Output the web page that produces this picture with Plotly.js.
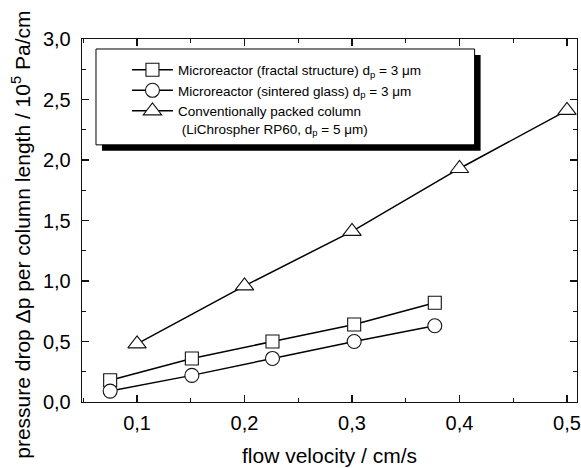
<!DOCTYPE html>
<html>
<head>
<meta charset="utf-8">
<script src="https://cdn.plot.ly/plotly-3.0.1.min.js"></script>
<style>html,body{margin:0;padding:0;background:#fff;}#chart{width:581px;height:468px;}</style>
</head>
<body>
<div id="chart"></div>
<script>
// ---- data ----
const velocityMicro = [0.075, 0.151, 0.226, 0.302, 0.377];
const dpFractal     = [0.18, 0.36, 0.50, 0.64, 0.82];
const dpSintered    = [0.09, 0.22, 0.36, 0.50, 0.63];
const velocityPacked = [0.1, 0.2, 0.3, 0.4, 0.5];
const dpPacked       = [0.48, 0.96, 1.41, 1.93, 2.41];
const seriesNames = [
  'Microreactor (fractal structure) d<sub>p</sub> = 3 \u03bcm',
  'Microreactor (sintered glass) d<sub>p</sub> = 3 \u03bcm',
  'Conventionally packed column<br>\u00a0(LiChrospher RP60, d<sub>p</sub> = 5 \u03bcm)'
];
const xTitle = 'flow velocity / cm/s';
const yTitle = 'pressure drop \u0394p per column length / 10<sup>5</sup> Pa/cm';

// ---- layout geometry ----
const W = 581, H = 468;
const M = {l: 82, r: 3.5, t: 39, b: 65.5};
const pw = W - M.l - M.r, ph = H - M.t - M.b;
const px = v => (v - M.l) / pw;          // pixel x -> paper
const py = v => (H - M.b - v) / ph;      // pixel y -> paper

const lineStyle = {color: '#000', width: 1.5};
const mk = (symbol, size) => ({symbol: symbol, size: size, color: '#fff', line: {color: '#111', width: 1.1}});

const traces = [
  {x: velocityMicro, y: dpFractal, name: seriesNames[0], mode: 'lines+markers', line: lineStyle, marker: mk('square', 13)},
  {x: velocityMicro, y: dpSintered, name: seriesNames[1], mode: 'lines+markers', line: lineStyle, marker: mk('circle', 14)},
  {x: velocityPacked, y: dpPacked, name: seriesNames[2], mode: 'lines+markers', line: lineStyle, marker: mk('triangle-up', 16)}
];

const axisCommon = {
  showline: true, linecolor: '#111', linewidth: 1.3, mirror: 'ticks',
  ticks: 'inside', ticklen: 7, tickwidth: 1.2, tickcolor: '#111',
  showgrid: false, zeroline: false, tickformat: '.1f',
  tickfont: {family: 'Liberation Sans, Arial, sans-serif', size: 20, color: '#000'}
};

const layout = {
  width: W, height: H,
  margin: M,
  paper_bgcolor: '#fff', plot_bgcolor: '#fff',
  separators: ',.',
  font: {family: 'Liberation Sans, Arial, sans-serif', color: '#000'},
  xaxis: Object.assign({}, axisCommon, {
    range: [0.0488, 0.5093], tick0: 0, dtick: 0.1, ticklabelstandoff: 3,
    minor: {dtick: 0.05, ticks: 'inside', ticklen: 4, tickwidth: 1.2, tickcolor: '#111'}
  }),
  yaxis: Object.assign({}, axisCommon, {
    range: [0, 3.0], tick0: 0, dtick: 0.5, ticklabelstandoff: 6,
    minor: {dtick: 0.25, ticks: 'inside', ticklen: 4, tickwidth: 1.2, tickcolor: '#111'}
  }),
  showlegend: true,
  legend: {
    x: px(127), y: py(54.5), xanchor: 'left', yanchor: 'top',
    bgcolor: 'rgba(0,0,0,0)', borderwidth: 0, valign: 'top', itemwidth: 41,
    font: {family: 'Liberation Sans, Arial, sans-serif', size: 13.5, color: '#000'},
    traceorder: 'normal'
  },
  shapes: [
    {type: 'rect', xref: 'paper', yref: 'paper', layer: 'above',
     x0: px(102), x1: px(481), y0: py(151), y1: py(55),
     fillcolor: '#000', line: {width: 0}},
    {type: 'rect', xref: 'paper', yref: 'paper', layer: 'above',
     x0: px(96), x1: px(475), y0: py(145), y1: py(49),
     fillcolor: '#fff', line: {color: '#000', width: 1}}
  ],
  annotations: [
    {text: xTitle, xref: 'paper', yref: 'paper', x: px(330), y: py(456),
     xanchor: 'center', yanchor: 'middle', showarrow: false,
     font: {size: 21, color: '#000'}},
    {text: yTitle, xref: 'paper', yref: 'paper', x: px(21), y: py(235),
     xanchor: 'center', yanchor: 'middle', textangle: -90, showarrow: false,
     font: {size: 21, color: '#000'}}
  ]
};

Plotly.newPlot('chart', traces, layout, {displayModeBar: false, staticPlot: true});
</script>
</body>
</html>
